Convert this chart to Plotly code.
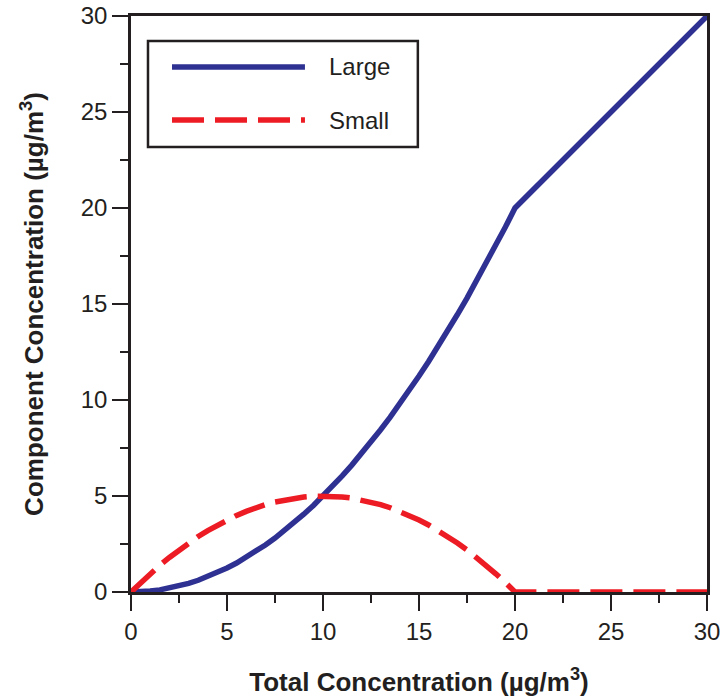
import plotly.graph_objects as go

# Data (half-unit steps up to the kink at 20)
x_large = [0, 0.5, 1, 1.5, 2, 2.5, 3, 3.5, 4, 4.5, 5, 5.5, 6, 6.5, 7, 7.5, 8, 8.5, 9, 9.5,
           10, 10.5, 11, 11.5, 12, 12.5, 13, 13.5, 14, 14.5, 15, 15.5, 16, 16.5, 17, 17.5,
           18, 18.5, 19, 19.5, 20, 30]
y_large = [0, 0.01, 0.05, 0.11, 0.2, 0.31, 0.45, 0.61, 0.8, 1.01, 1.25, 1.51, 1.8, 2.11,
           2.45, 2.81, 3.2, 3.61, 4.05, 4.51, 5, 5.51, 6.05, 6.61, 7.2, 7.81, 8.45, 9.11,
           9.8, 10.51, 11.25, 12.01, 12.8, 13.61, 14.45, 15.31, 16.2, 17.11, 18.05, 19.01,
           20, 30]
x_small = [0, 0.5, 1, 1.5, 2, 2.5, 3, 3.5, 4, 4.5, 5, 5.5, 6, 6.5, 7, 7.5, 8, 8.5, 9, 9.5,
           10, 10.5, 11, 11.5, 12, 12.5, 13, 13.5, 14, 14.5, 15, 15.5, 16, 16.5, 17, 17.5,
           18, 18.5, 19, 19.5, 20, 30]
y_small = [0, 0.49, 0.95, 1.39, 1.8, 2.19, 2.55, 2.89, 3.2, 3.49, 3.75, 3.99, 4.2, 4.39,
           4.55, 4.69, 4.8, 4.89, 4.95, 4.99, 5, 4.99, 4.95, 4.89, 4.8, 4.69, 4.55, 4.39,
           4.2, 3.99, 3.75, 3.49, 3.2, 2.89, 2.55, 2.19, 1.8, 1.39, 0.95, 0.49, 0, 0]
series_names = ["Large", "Small"]
tick_vals = [0, 5, 10, 15, 20, 25, 30]
minor_vals = [2.5, 7.5, 12.5, 17.5, 22.5, 27.5]

BLUE = "#2E3192"
RED = "#ED1C24"
INK = "#231F20"
FONT = "Liberation Sans, Arial, sans-serif"
DASH = "32px,11px"

fig = go.Figure()
fig.add_trace(go.Scatter(x=x_large, y=y_large, mode="lines", name=series_names[0],
                         line=dict(color=BLUE, width=5.5), showlegend=False,
                         cliponaxis=False))
fig.add_trace(go.Scatter(x=x_small, y=y_small, mode="lines", name=series_names[1],
                         line=dict(color=RED, width=5.5, dash=DASH), showlegend=False,
                         cliponaxis=False))

axis_common = dict(
    range=[0, 30], tickvals=tick_vals, ticks="outside", ticklen=16, tickwidth=1.5,
    tickcolor=INK, showline=True, linecolor=INK, linewidth=2.5, mirror=True,
    showgrid=False, zeroline=False, automargin=False, ticklabeloverflow="allow",
    tickfont=dict(family=FONT, size=24, color=INK),
    minor=dict(tickvals=minor_vals, ticks="outside", ticklen=8,
               tickwidth=1.5, tickcolor=INK, showgrid=False),
)

fig.update_xaxes(**axis_common,
                 title=dict(text="<b>Total Concentration (µg/m<sup>3</sup>)</b>",
                            font=dict(family=FONT, size=26, color=INK), standoff=30))
fig.update_yaxes(**axis_common,
                 title=dict(text="<b>Component Concentration (µg/m<sup>3</sup>)</b>",
                            font=dict(family=FONT, size=26, color=INK), standoff=30))

# Manual legend (paper coordinates)
shapes = [
    dict(type="rect", xref="paper", yref="paper", x0=0.0295, x1=0.498, y0=0.7726, y1=0.9566,
         line=dict(color=INK, width=2.5), fillcolor="white", layer="below"),
    dict(type="line", xref="paper", yref="paper", x0=0.0712, x1=0.302, y0=0.9115, y1=0.9115,
         line=dict(color=BLUE, width=5.5)),
    dict(type="line", xref="paper", yref="paper", x0=0.0712, x1=0.302, y0=0.8194, y1=0.8194,
         line=dict(color=RED, width=5.5, dash=DASH)),
]
annotations = [
    dict(xref="paper", yref="paper", x=0.3455, y=0.9115, text=series_names[0], showarrow=False,
         xanchor="left", yanchor="middle", xshift=-3,
         font=dict(family=FONT, size=24, color=INK)),
    dict(xref="paper", yref="paper", x=0.3455, y=0.8194, text=series_names[1], showarrow=False,
         xanchor="left", yanchor="middle", xshift=-3,
         font=dict(family=FONT, size=24, color=INK)),
]

fig.update_layout(
    width=720, height=700,
    margin=dict(l=131, r=13, t=16, b=108),
    plot_bgcolor="white", paper_bgcolor="white",
    shapes=shapes, annotations=annotations,
    showlegend=False,
)

fig.write_html("out.html")
